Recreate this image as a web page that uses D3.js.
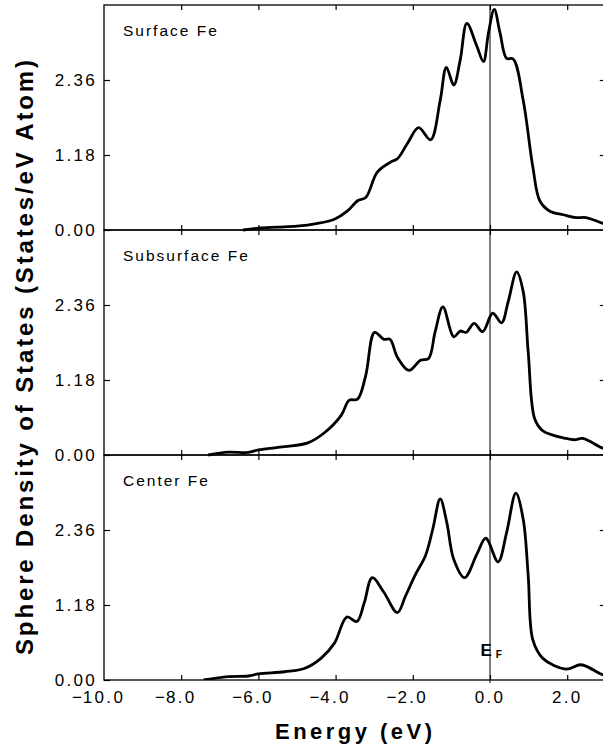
<!DOCTYPE html>
<html>
<head>
<meta charset="utf-8">
<script src="https://cdn.jsdelivr.net/npm/d3@7"></script>
<style>
  body { margin: 0; background: #fff; }
  text { font-family: "Liberation Sans", Arial, sans-serif; fill: #000; }
</style>
</head>
<body>
<svg id="chart" width="603" height="746"></svg>
<script>
// panel names, top to bottom
const panelNames = ["Surface Fe", "Subsurface Fe", "Center Fe"];

// energy (eV) and sphere DOS (states/eV atom)
const energySurface = [-6.4, -6.0, -5.5, -5.0, -4.5, -4.03, -3.69, -3.43, -3.22, -2.92, -2.57, -2.4, -2.14, -1.85, -1.54, -1.29, -1.13, -0.94, -0.77, -0.6, -0.34, -0.17, -0.04, 0.11, 0.26, 0.43, 0.6, 0.86, 1.11, 1.29, 1.54, 1.9, 2.23, 2.49, 2.87, 3.0];
const dosSurface = [0, 0.03, 0.045, 0.06, 0.1, 0.17, 0.3, 0.46, 0.51, 0.91, 1.07, 1.12, 1.36, 1.61, 1.42, 2.04, 2.56, 2.28, 2.68, 3.25, 2.89, 2.65, 3.1, 3.47, 3.1, 2.7, 2.69, 2.04, 0.99, 0.46, 0.3, 0.24, 0.195, 0.195, 0.116, 0.09];

const energySubsurface = [-7.3, -6.78, -6.26, -6.0, -5.32, -4.72, -4.29, -3.86, -3.65, -3.43, -3.22, -2.99, -2.75, -2.59, -2.4, -2.1, -1.8, -1.59, -1.42, -1.22, -0.94, -0.77, -0.62, -0.41, -0.19, 0.07, 0.3, 0.47, 0.69, 0.86, 0.99, 1.16, 1.37, 1.97, 2.19, 2.4, 2.87, 3.0];
const dosSubsurface = [0, 0.045, 0.04, 0.08, 0.13, 0.19, 0.35, 0.62, 0.86, 0.88, 1.25, 1.93, 1.82, 1.82, 1.54, 1.33, 1.49, 1.52, 1.94, 2.33, 1.86, 1.95, 1.93, 2.07, 1.94, 2.23, 2.08, 2.41, 2.88, 2.57, 1.62, 0.565, 0.38, 0.26, 0.24, 0.26, 0.12, 0.09];

const energyCenter = [-7.42, -6.78, -6.26, -6.0, -5.32, -4.81, -4.38, -4.03, -3.71, -3.45, -3.26, -3.05, -2.75, -2.4, -2.19, -1.93, -1.67, -1.48, -1.29, -1.12, -0.94, -0.66, -0.34, -0.11, 0.21, 0.43, 0.67, 0.86, 0.99, 1.11, 1.37, 1.97, 2.36, 2.87, 3.0];
const dosCenter = [0, 0.053, 0.063, 0.095, 0.13, 0.18, 0.34, 0.58, 0.99, 0.92, 1.21, 1.61, 1.38, 1.06, 1.32, 1.66, 1.96, 2.38, 2.85, 2.48, 1.9, 1.61, 1.98, 2.23, 1.86, 2.32, 2.94, 2.53, 1.64, 0.63, 0.34, 0.17, 0.24, 0.095, 0.07];

// axis ticks
const xTicks = [-10, -8, -6, -4, -2, 0, 2];
const yTicks = [0, 1.18, 2.36];
const yMax = 3.54;

const panels = [
  { name: panelNames[0], e: energySurface, v: dosSurface },
  { name: panelNames[1], e: energySubsurface, v: dosSubsurface },
  { name: panelNames[2], e: energyCenter, v: dosCenter },
];

const svg = d3.select("#chart");
const plotTop = 5;
const panelH = 225;
const plotBottom = plotTop + panelH * panels.length;

const x = d3.scaleLinear().domain([-10, 3]).range([104, 605.8]);

svg.append("clipPath").attr("id", "plotClip")
  .append("rect")
  .attr("x", x(-10)).attr("y", plotTop)
  .attr("width", x(3) - x(-10)).attr("height", plotBottom - plotTop);

panels.forEach((p, i) => {
  let top = plotTop + i * panelH;
  let bottom = top + panelH;
  let y = d3.scaleLinear().domain([0, yMax]).range([bottom, top]);
  let g = svg.append("g");

  // frame
  g.append("rect")
    .attr("x", x(-10)).attr("y", top)
    .attr("width", x(3) - x(-10)).attr("height", panelH)
    .attr("fill", "none").attr("stroke", "#000").attr("stroke-width", 1.3);

  // left ticks + labels
  let left = g.append("g")
    .attr("transform", `translate(${x(-10)},0)`)
    .call(d3.axisLeft(y).tickValues(yTicks).tickSize(-6).tickPadding(7).tickFormat(d3.format(".2f")));
  left.select(".domain").remove();
  left.selectAll("line").attr("stroke-width", 1.2);
  left.selectAll("text")
    .attr("font-size", 17).attr("letter-spacing", 2.3)
    .attr("font-family", "Liberation Sans, Arial, sans-serif");

  // right ticks
  let right = g.append("g")
    .attr("transform", `translate(${x(3)},0)`)
    .call(d3.axisRight(y).tickValues(yTicks.slice(1)).tickSize(-6).tickFormat(""));
  right.select(".domain").remove();
  right.selectAll("line").attr("stroke-width", 1.2);

  // top and bottom ticks, pointing inward
  let topAx = g.append("g")
    .attr("transform", `translate(0,${top})`)
    .call(d3.axisTop(x).tickValues(xTicks.slice(1)).tickSize(-5).tickFormat(""));
  topAx.select(".domain").remove();
  topAx.selectAll("line").attr("stroke-width", 1.2);

  let botAx = g.append("g")
    .attr("transform", `translate(0,${bottom})`)
    .call(d3.axisBottom(x).tickValues(xTicks.slice(1)).tickSize(-5).tickFormat(""));
  botAx.select(".domain").remove();
  botAx.selectAll("line").attr("stroke-width", 1.2);

  // curve
  let pts = p.e.map((e, k) => ({ e: e, v: p.v[k] }));
  let line = d3.line()
    .x((d) => x(d.e))
    .y((d) => y(d.v))
    .curve(d3.curveCatmullRom.alpha(0.5));
  g.append("path")
    .datum(pts)
    .attr("clip-path", "url(#plotClip)")
    .attr("d", line)
    .attr("fill", "none")
    .attr("stroke", "#000")
    .attr("stroke-width", 2.8)
    .attr("stroke-linejoin", "round");

  // panel label
  g.append("text")
    .attr("x", 123).attr("y", top + 31)
    .attr("font-size", 15.5).attr("letter-spacing", 2)
    .text(p.name);
});

// Fermi level line
svg.append("line")
  .attr("x1", x(0)).attr("x2", x(0))
  .attr("y1", plotTop).attr("y2", plotBottom + 3)
  .attr("stroke", "#000").attr("stroke-width", 1);

let ef = svg.append("text")
  .attr("x", 480.5).attr("y", 656)
  .attr("font-size", 17).attr("font-weight", "bold");
ef.append("tspan").text("E");
ef.append("tspan").attr("dx", 4).attr("dy", 2).attr("font-size", 10).text("F");

// x tick labels: number centred on tick, minus sign hanging left
let xl = svg.append("g").selectAll("g")
  .data(xTicks)
  .join("g")
  .attr("transform", (d) => `translate(${x(d)},703)`);
xl.append("text")
  .attr("text-anchor", "middle")
  .attr("font-size", 17).attr("letter-spacing", 2.3)
  .text((d) => Math.abs(d).toFixed(1))
  .each(function (d) {
    if (d >= 0) return;
    let w = this.getComputedTextLength();
    d3.select(this.parentNode).append("text")
      .attr("x", -w / 2 - 1)
      .attr("text-anchor", "end")
      .attr("font-size", 17)
      .text("\u2212");
  });

// axis titles
svg.append("text")
  .attr("x", 275).attr("y", 739)
  .attr("font-size", 22).attr("font-weight", "bold")
  .attr("textLength", 157).attr("lengthAdjust", "spacing")
  .text("Energy (eV)");

svg.append("text")
  .attr("transform", "translate(33,357.5) rotate(-90)")
  .attr("text-anchor", "middle")
  .attr("font-size", 24).attr("font-weight", "bold")
  .attr("textLength", 595).attr("lengthAdjust", "spacing")
  .text("Sphere Density of States (States/eV Atom)");
</script>
</body>
</html>
